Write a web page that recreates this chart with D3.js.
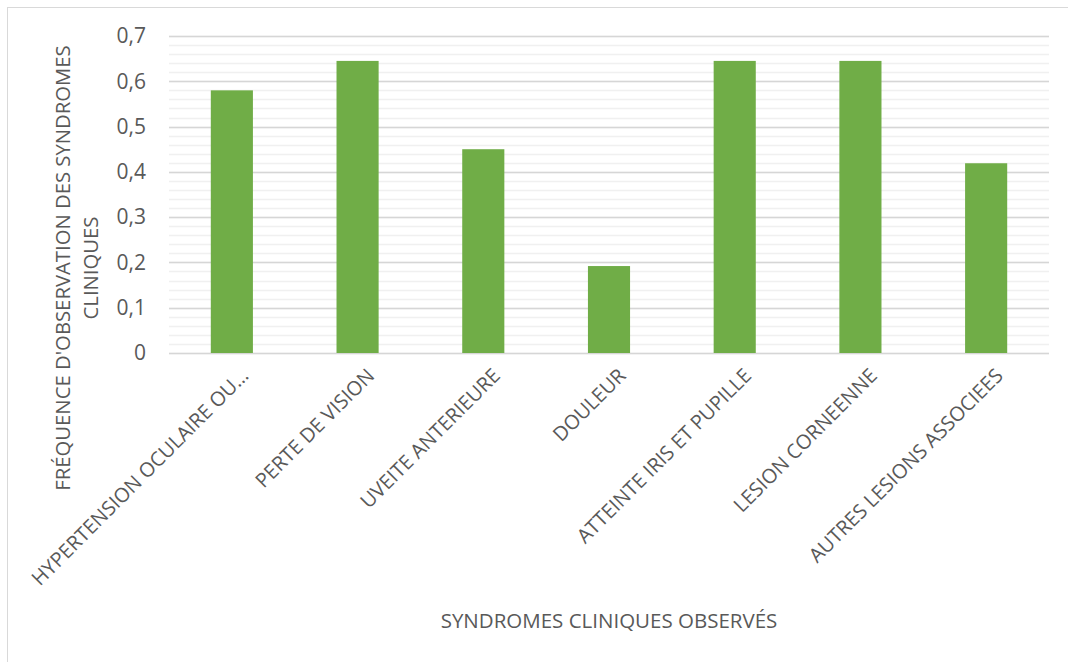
<!DOCTYPE html>
<html><head><meta charset="utf-8">
<script src="https://cdn.jsdelivr.net/npm/d3@7"></script>
<style>body{margin:0;background:#fff;}svg{display:block;font-family:"Open Sans","Liberation Sans",sans-serif;}</style>
</head><body>
<svg id="c" width="1068" height="662"></svg>
<script>
const categories = ["HYPERTENSION OCULAIRE OU…","PERTE DE VISION","UVEITE ANTERIEURE","DOULEUR","ATTEINTE IRIS ET PUPILLE","LESION CORNEENNE","AUTRES LESIONS ASSOCIEES"];
const values = [0.58,0.645,0.45,0.192,0.645,0.645,0.419];
const yTicks = [0,0.1,0.2,0.3,0.4,0.5,0.6,0.7];
const minorTicks = d3.range(0,0.7001,0.02);
const yTitle = ["FRÉQUENCE D'OBSERVATION DES SYNDROMES","CLINIQUES"];
const xTitle = "SYNDROMES CLINIQUES OBSERVÉS";

const svg = d3.select("#c");
const txt = "#595959";
const ff = "'Open Sans','Liberation Sans',sans-serif";
svg.append("rect").attr("x",7.5).attr("y",7.5).attr("width",1070).attr("height",670)
  .attr("fill","none").attr("stroke","#d9d9d9");

const x = d3.scaleBand().domain(categories).range([169,1049]).paddingInner(0.665).paddingOuter(0.3325);
const y = d3.scaleLinear().domain([0,0.7]).range([353,36]);

svg.append("g").selectAll("line").data(minorTicks).join("line")
  .attr("x1",169).attr("x2",1049).attr("y1",d=>Math.round(y(d))+0.5).attr("y2",d=>Math.round(y(d))+0.5)
  .attr("stroke","#f0f0f0").attr("stroke-width",1.5);
svg.append("g").selectAll("line").data(yTicks).join("line")
  .attr("x1",169).attr("x2",1049).attr("y1",d=>Math.round(y(d))+0.5).attr("y2",d=>Math.round(y(d))+0.5)
  .attr("stroke","#d6d6d6").attr("stroke-width",1.5);

const yAxis = d3.axisLeft(y).tickValues(yTicks).tickSize(0).tickPadding(0)
  .tickFormat(d=>d3.format(".1~f")(d).replace(".",","));
const gy = svg.append("g").attr("transform","translate(146,0)").call(yAxis);
gy.select(".domain").remove();
gy.selectAll("text").attr("fill",txt).attr("font-size",21).attr("font-family",ff);

svg.append("g").selectAll("rect").data(values).join("rect")
  .attr("x",(d,i)=>x(categories[i])).attr("width",x.bandwidth())
  .attr("y",d=>y(d)).attr("height",d=>y(0)-y(d)).attr("fill","#70ad47");

const xAxis = d3.axisBottom(x).tickSize(0).tickPadding(0);
const gx = svg.append("g").attr("transform","translate(0,353)").call(xAxis);
gx.select(".domain").remove();
gx.selectAll("text").attr("fill",txt).attr("font-size",20).attr("font-family",ff)
  .attr("text-anchor","end").attr("dy",0).attr("y",0)
  .attr("transform","translate(18,24) rotate(-45)");

svg.append("text")
  .attr("x",609).attr("y",628).attr("text-anchor","middle").attr("fill",txt).attr("font-size",20.5).attr("font-family",ff).text(xTitle);

const yt = svg.append("text").attr("transform","translate(0,268) rotate(-90)").attr("text-anchor","middle")
  .attr("fill",txt).attr("font-size",20.3).attr("font-family",ff);
yt.selectAll("tspan").data(yTitle).join("tspan").attr("x",0).attr("y",(d,i)=>70+i*28).text(d=>d);
</script>
</body></html>
